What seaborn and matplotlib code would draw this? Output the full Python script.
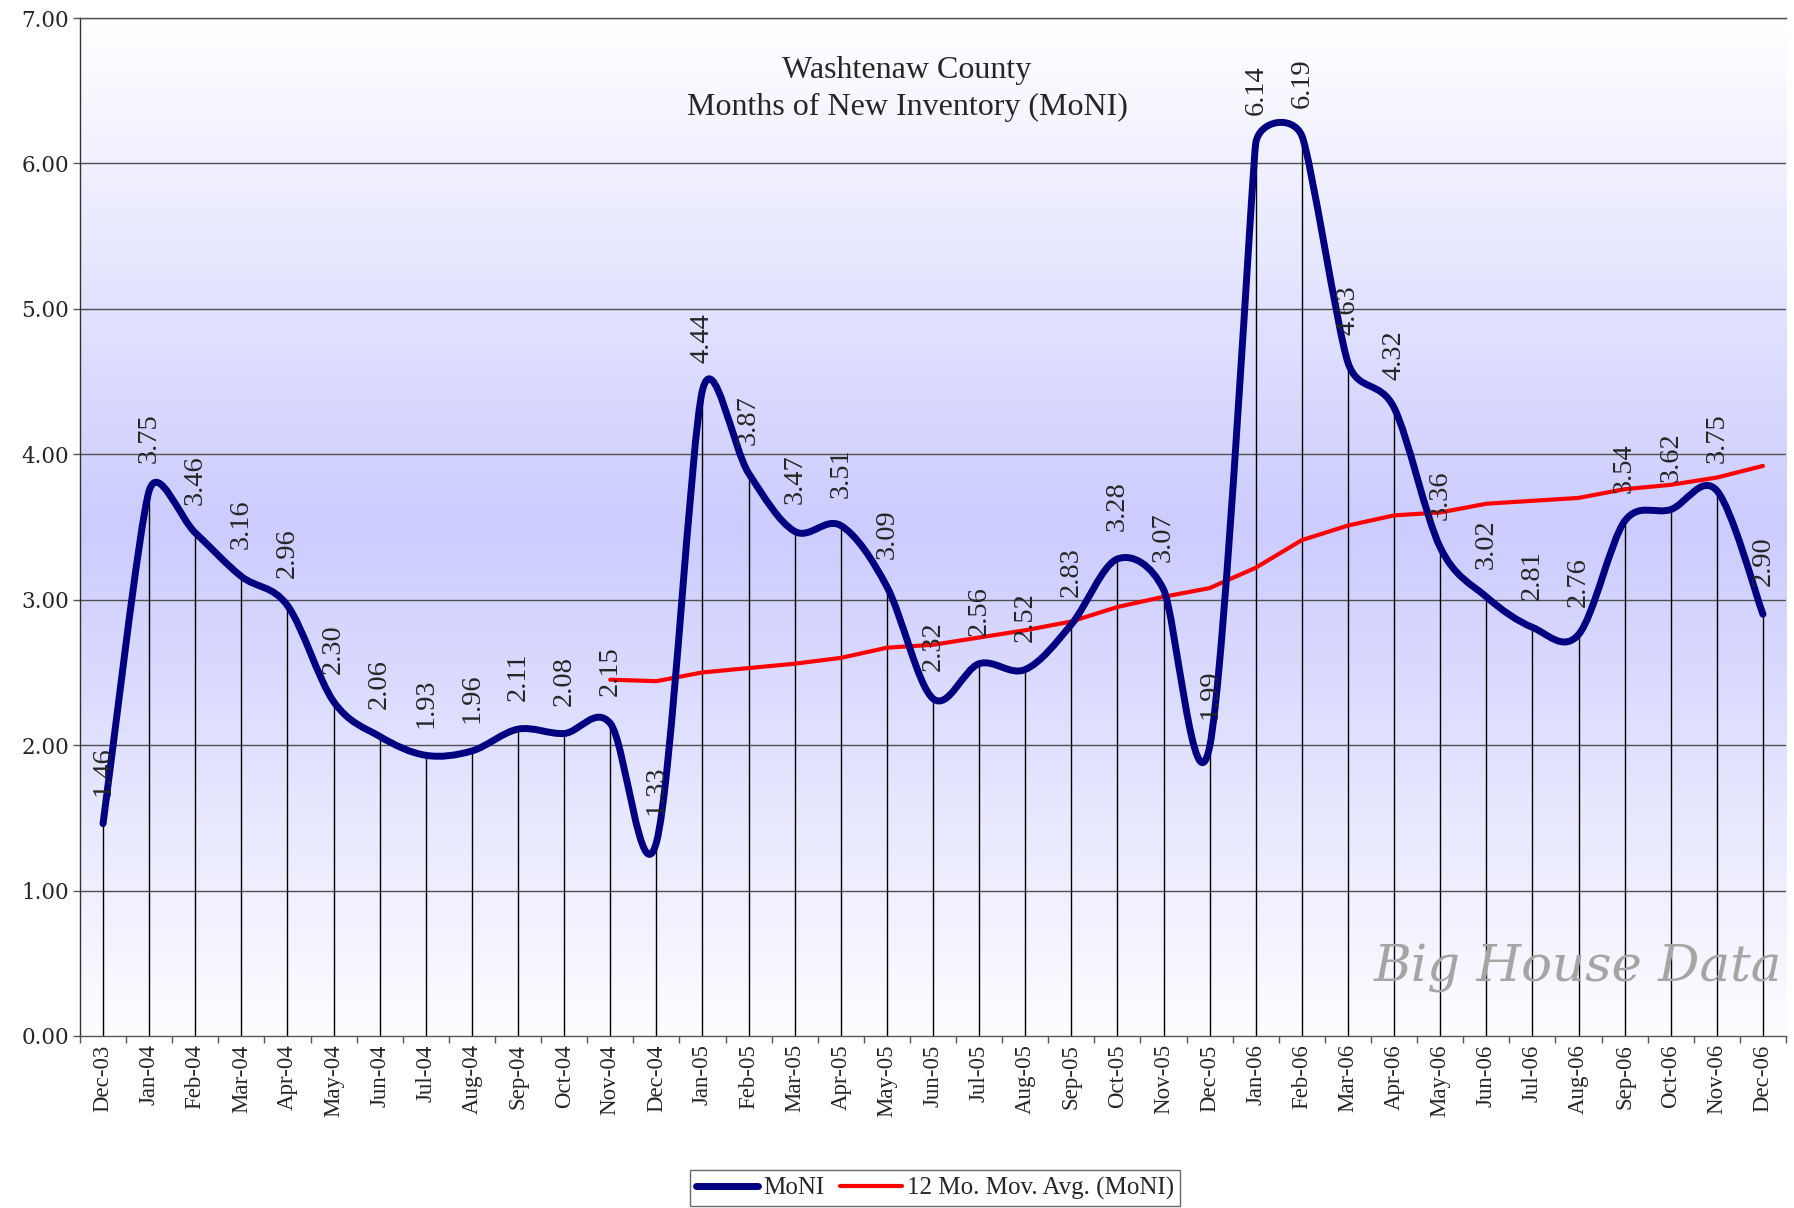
import numpy as np
import pandas as pd
import matplotlib
matplotlib.use("Agg")
import matplotlib.pyplot as plt
import seaborn as sns
from matplotlib.path import Path
from matplotlib.patches import PathPatch
from matplotlib.colors import LinearSegmentedColormap
from matplotlib.lines import Line2D

# data
months = ["Dec-03",
          "Jan-04", "Feb-04", "Mar-04", "Apr-04", "May-04", "Jun-04",
          "Jul-04", "Aug-04", "Sep-04", "Oct-04", "Nov-04", "Dec-04",
          "Jan-05", "Feb-05", "Mar-05", "Apr-05", "May-05", "Jun-05",
          "Jul-05", "Aug-05", "Sep-05", "Oct-05", "Nov-05", "Dec-05",
          "Jan-06", "Feb-06", "Mar-06", "Apr-06", "May-06", "Jun-06",
          "Jul-06", "Aug-06", "Sep-06", "Oct-06", "Nov-06", "Dec-06"]
moni = [1.46,
        3.75, 3.46, 3.16, 2.96, 2.30, 2.06, 1.93, 1.96, 2.11, 2.08, 2.15, 1.33,
        4.44, 3.87, 3.47, 3.51, 3.09, 2.32, 2.56, 2.52, 2.83, 3.28, 3.07, 1.99,
        6.14, 6.19, 4.63, 4.32, 3.36, 3.02, 2.81, 2.76, 3.54, 3.62, 3.75, 2.90]
# 12 month moving average, starts at Nov-04
ma_start = "Nov-04"
ma_vals = [2.45, 2.44, 2.50, 2.53, 2.56, 2.60, 2.67, 2.69, 2.74, 2.79,
           2.85, 2.95, 3.02, 3.08, 3.22, 3.41, 3.51, 3.58, 3.60, 3.66,
           3.68, 3.70, 3.76, 3.79, 3.84, 3.92]
y_ticks = [0, 1, 2, 3, 4, 5, 6, 7]

df = pd.DataFrame({"month": months, "moni": moni})
df["pos"] = np.arange(len(df))
i0 = months.index(ma_start)
df_ma = pd.DataFrame({"pos": df["pos"].values[i0:], "ma": ma_vals})

sns.set_style("white")
plt.rcParams["font.family"] = ["Liberation Serif", "DejaVu Serif"]

fig = plt.figure(figsize=(17.94, 12.08), dpi=100)
ax = fig.add_axes([80 / 1794, 1 - 1036 / 1208, 1706 / 1794, 1018 / 1208])
ax.set_xlim(-0.5, len(months) - 0.5)
ax.set_ylim(0, 7)

# gradient background (white -> lavender -> white)
cmap = LinearSegmentedColormap.from_list(
    "bg", [(0.0, "#FDFDFF"), (0.5, "#CCCCFF"), (1.0, "#FFFFFF")])
grad = np.linspace(0, 1, 256).reshape(-1, 1)
ax.imshow(grad, extent=[-0.5, len(months) - 0.5, 0, 7], origin="lower",
          aspect="auto", cmap=cmap, zorder=0)
ax.set_xlim(-0.5, len(months) - 0.5)
ax.set_ylim(0, 7)

# gridlines
for t in y_ticks[1:]:
    ax.axhline(t, color="#505050", lw=1.0, zorder=1)

# drop lines
ax.vlines(df["pos"], 0, df["moni"], color="black", lw=1.0, zorder=2)

# smoothed MoNI line, Excel-like bezier (handles computed in pixel space)
pts = ax.transData.transform(df[["pos", "moni"]].values.astype(float))
n = len(pts)
h_in = [None] * n
h_out = [None] * n
for i in range(n):
    p0 = pts[i - 1] if i > 0 else pts[i]
    p1 = pts[i]
    p2 = pts[i + 1] if i + 1 < n else pts[i]
    t = (p2 - p0) / 6.0
    L = np.hypot(*t)
    d01 = np.hypot(*(p1 - p0))
    d12 = np.hypot(*(p2 - p1))
    lim = min([d for d in (d01, d12) if d > 0]) / 2.0
    if L > lim and L > 0:
        t = t * lim / L
    h_in[i] = p1 - t
    h_out[i] = p1 + t
verts = [pts[0]]
codes = [Path.MOVETO]
for i in range(n - 1):
    verts += [h_out[i], h_in[i + 1], pts[i + 1]]
    codes += [Path.CURVE4] * 3
verts = ax.transData.inverted().transform(np.array(verts))
patch = PathPatch(Path(verts, codes), facecolor="none", edgecolor="#000080",
                  lw=5.0, capstyle="round", joinstyle="round", zorder=4)
ax.add_patch(patch)

# moving average
sns.lineplot(data=df_ma, x="pos", y="ma", color="#FF0000", lw=3.0, ax=ax,
             zorder=3, solid_capstyle="round")

# data labels
for _, r in df.iterrows():
    ax.annotate(f"{r['moni']:.2f}", (r["pos"], r["moni"]), xytext=(0, 20),
                textcoords="offset points", rotation=90, ha="center",
                va="bottom", fontsize=20.5, zorder=5)

ax.set_xlim(-0.5, len(months) - 0.5)
ax.set_ylim(0, 7)
ax.set_xticks(df["pos"])
ax.set_xticklabels(months, rotation=90, fontsize=16.5)
ax.set_xticks(np.arange(-0.5, len(months), 1), minor=True)
ax.tick_params(axis="x", which="major", length=0, pad=6)
ax.tick_params(axis="x", which="minor", length=5, width=1, color="#555555",
               direction="out", bottom=True)
ax.set_yticks(y_ticks)
ax.set_yticklabels([f"{t:.2f}" for t in y_ticks], fontsize=15.5,
                   family="DejaVu Serif")
ax.tick_params(axis="y", length=5, width=1, color="#555555", pad=3, left=True)
ax.set_xlabel("")
ax.set_ylabel("")
ax.spines["right"].set_visible(False)
ax.spines["top"].set_color("#505050")
ax.spines["left"].set_color("#333333")
ax.spines["bottom"].set_color("#555555")
for s in ["top", "left", "bottom"]:
    ax.spines[s].set_linewidth(1.0)

# title
ax.text(907 / 1794, 1 - 89 / 1208, "Washtenaw County\nMonths of New Inventory (MoNI)",
        transform=fig.transFigure, ha="center", va="center", fontsize=23,
        linespacing=1.35, zorder=6)

# watermark
ax.text(1578 / 1794, 1 - 968 / 1208, "Big House Data", transform=fig.transFigure,
        ha="center", va="center", fontsize=37, style="italic",
        family="DejaVu Serif", color="#A8A4A4", zorder=6)

# legend
handles = [Line2D([], [], color="#000080", lw=5.0, solid_capstyle="round"),
           Line2D([], [], color="#FF0000", lw=3.0, solid_capstyle="round")]
leg = fig.legend(handles, ["MoNI", "12 Mo. Mov. Avg. (MoNI)"], ncol=2,
                 loc="lower center", bbox_to_anchor=(935 / 1794, 2 / 1208),
                 fontsize=18, frameon=True, fancybox=False, handlelength=2.5,
                 handletextpad=0.2, columnspacing=0.6, borderpad=0.25,
                 borderaxespad=0)
leg.get_frame().set_edgecolor("#444444")
leg.get_frame().set_linewidth(1.0)

fig.savefig("out.png", dpi=100, facecolor="white")
